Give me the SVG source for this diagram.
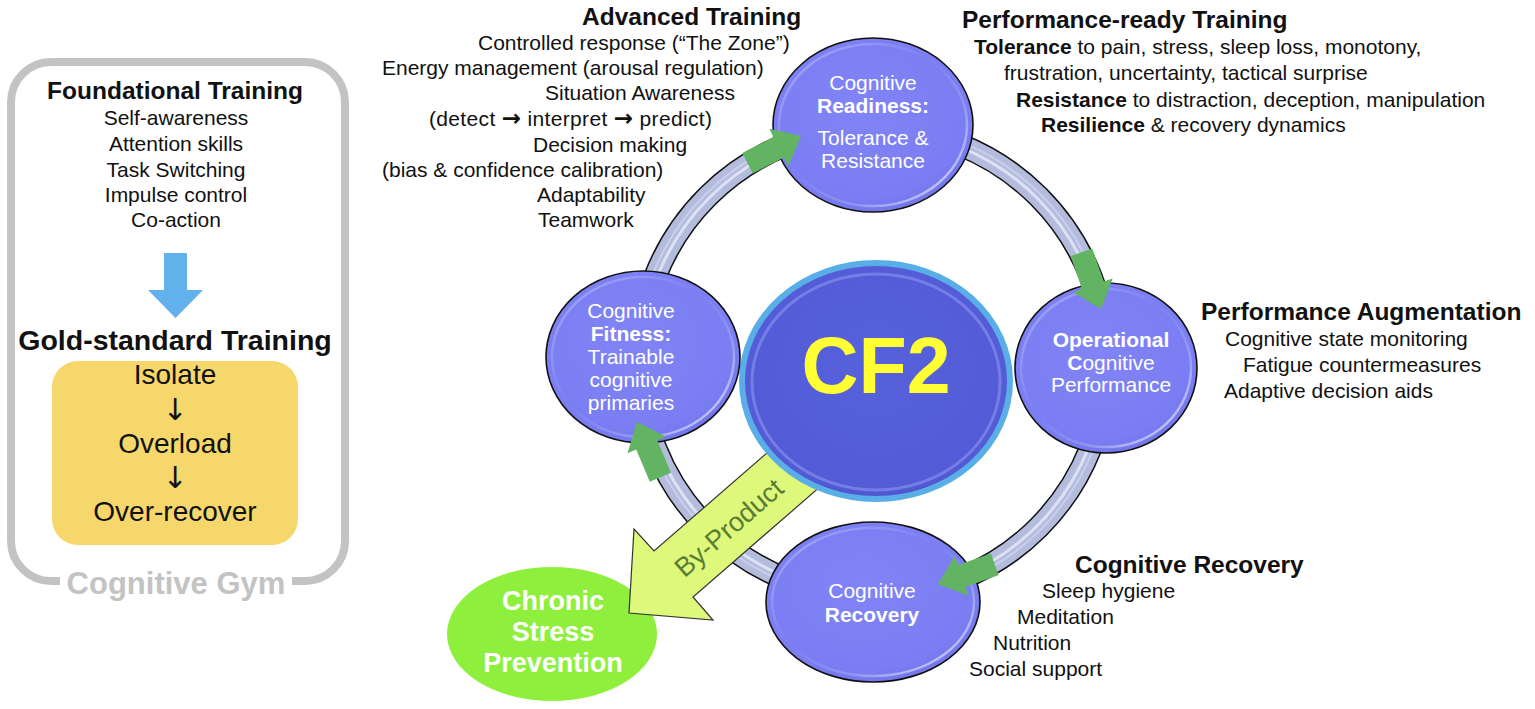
<svg xmlns="http://www.w3.org/2000/svg" xmlns:xlink="http://www.w3.org/1999/xlink" width="1535" height="709" viewBox="0 0 1535 709">
<style>
  text { font-family: "Liberation Sans", Arial, sans-serif; }
  .t21 { font-size: 21px; fill: #111; }
  .hd { font-size: 24.5px; font-weight: bold; fill: #111; }
  .nd { font-size: 21px; fill: #fff; text-anchor: middle; }
  .b { font-weight: bold; }
  .node { fill: url(#nodeGrad); stroke: #111; stroke-width: 1.6; }
  .hl { fill: none; stroke: url(#hlGrad); stroke-width: 2.5; }
  .mid { text-anchor: middle; }
  .arr { font-family: "DejaVu Sans", sans-serif; }
</style>
<defs>
  <radialGradient id="nodeGrad" cx="0.45" cy="0.4" r="0.65">
    <stop offset="0" stop-color="#8084f6"/>
    <stop offset="0.8" stop-color="#7a7ef2"/>
    <stop offset="1" stop-color="#6f73e6"/>
  </radialGradient>
  <linearGradient id="hlGrad" x1="0" y1="0" x2="1" y2="1">
    <stop offset="0" stop-color="#fff" stop-opacity="0.35"/>
    <stop offset="0.45" stop-color="#fff" stop-opacity="0"/>
    <stop offset="0.7" stop-color="#fff" stop-opacity="0.2"/>
    <stop offset="1" stop-color="#fff" stop-opacity="0.8"/>
  </linearGradient>
  <radialGradient id="cfGrad" cx="0.5" cy="0.45" r="0.6">
    <stop offset="0" stop-color="#5761dc"/>
    <stop offset="0.85" stop-color="#535cd6"/>
    <stop offset="1" stop-color="#3f47b8"/>
  </radialGradient>
  <polygon id="garrow" points="0,0 -25,-21 -25,-11.5 -60,-11.5 -60,11.5 -25,11.5 -25,21" fill="#62b462"/>
</defs>
<rect width="1535" height="709" fill="#fff"/>

<!-- Left panel: Cognitive Gym -->
<g id="cognitive-gym">
  <rect x="11" y="62" width="334" height="519" rx="40" fill="none" stroke="#c3c3c3" stroke-width="8"/>
  <rect x="60" y="568" width="232" height="28" fill="#fff"/>
  <text x="176" y="594" class="mid" font-size="31" font-weight="bold" fill="#c3c3c3">Cognitive Gym</text>
</g>
<g id="foundational">
  <text x="175" y="99" class="mid" font-size="24.5" font-weight="bold" fill="#111">Foundational Training</text>
  <text class="t21 mid" x="176" y="125">Self-awareness</text>
  <text class="t21 mid" x="176" y="151">Attention skills</text>
  <text class="t21 mid" x="176" y="177">Task Switching</text>
  <text class="t21 mid" x="176" y="202">Impulse control</text>
  <text class="t21 mid" x="176" y="227">Co-action</text>
</g>
<g id="blue-arrow">
  <polygon points="164,253 187,253 187,290 203,290 175.5,318 148,290 164,290" fill="#62b0ec"/>
</g>
<g id="gold-standard">
  <text x="175" y="350" class="mid" font-size="28.5" font-weight="bold" fill="#111">Gold-standard Training</text>
  <rect x="52" y="361" width="246" height="184" rx="26" fill="#f6d76b"/>
  <text x="175" y="384" class="mid" font-size="28" fill="#111">Isolate</text>
  <text x="175" y="420" class="mid arr" font-size="30" fill="#111">↓</text>
  <text x="175" y="453" class="mid" font-size="28" fill="#111">Overload</text>
  <text x="175" y="488" class="mid arr" font-size="30" fill="#111">↓</text>
  <text x="175" y="521" class="mid" font-size="28" fill="#111">Over-recover</text>
</g>

<!-- Connectors: ring tube, by-product arrow, green arrows -->
<g id="connectors">
  <circle cx="873" cy="362" r="234" fill="none" stroke="#111" stroke-width="23.5"/>
  <circle cx="873" cy="362" r="234" fill="none" stroke="#b4bcde" stroke-width="20.5"/>
  <circle cx="873" cy="362" r="232" fill="none" stroke="#e6eaf8" stroke-opacity="0.8" stroke-width="3"/>
  <circle cx="873" cy="362" r="237" fill="none" stroke="#d7ddf3" stroke-opacity="0.6" stroke-width="2"/>
</g>

<g id="chronic-stress">
  <ellipse cx="552" cy="634" rx="105" ry="67" fill="#8ef03c"/>
  <text x="553" y="610" class="mid" font-size="27" font-weight="bold" fill="#fff">Chronic</text>
  <text x="553" y="641" class="mid" font-size="27" font-weight="bold" fill="#fff">Stress</text>
  <text x="553" y="672" class="mid" font-size="27" font-weight="bold" fill="#fff">Prevention</text>
</g>

<g id="by-product">
  <polygon points="629,613 634,529 654,551 790,433 829,479 693,597 713,620" fill="#def87c" stroke="#333" stroke-width="1.2"/>
  <text x="729" y="537" class="mid" font-size="27" fill="#5a7d33" transform="rotate(-41 729 528)">By-Product</text>
</g>

<g id="cf2">
  <ellipse cx="876" cy="381" rx="134" ry="118" fill="url(#cfGrad)" stroke="#5aaee8" stroke-width="6"/>
  <ellipse cx="876" cy="382" rx="124" ry="108" fill="none" stroke="#8d94f0" stroke-opacity="0.6" stroke-width="3"/>
  <text x="876" y="393" class="mid" font-size="79" font-weight="bold" fill="#ffff33">CF2</text>
</g>

<g id="node-readiness">
  <ellipse class="node" cx="873" cy="125" rx="100" ry="87"/>
  <ellipse class="hl" cx="873" cy="125" rx="94" ry="81"/>
  <text class="nd" x="873" y="90">Cognitive</text>
  <text class="nd b" x="873" y="113">Readiness:</text>
  <text class="nd" x="873" y="145">Tolerance &amp;</text>
  <text class="nd" x="873" y="168">Resistance</text>
</g>
<g id="node-fitness">
  <ellipse class="node" cx="643" cy="357" rx="97" ry="86"/>
  <ellipse class="hl" cx="643" cy="357" rx="91" ry="80"/>
  <text class="nd" x="631" y="318">Cognitive</text>
  <text class="nd b" x="631" y="341">Fitness:</text>
  <text class="nd" x="631" y="364">Trainable</text>
  <text class="nd" x="631" y="387">cognitive</text>
  <text class="nd" x="631" y="410">primaries</text>
</g>
<g id="node-operational">
  <ellipse class="node" cx="1106" cy="368" rx="91" ry="85"/>
  <ellipse class="hl" cx="1106" cy="368" rx="85" ry="79"/>
  <text class="nd b" x="1111" y="347">Operational</text>
  <text class="nd" x="1111" y="370"><tspan class="b">C</tspan>ognitive</text>
  <text class="nd" x="1111" y="392">Performance</text>
</g>
<g id="node-recovery">
  <ellipse class="node" cx="873" cy="602" rx="107" ry="80"/>
  <ellipse class="hl" cx="873" cy="602" rx="101" ry="74"/>
  <text class="nd" x="872" y="598">Cognitive</text>
  <text class="nd b" x="872" y="622">Recovery</text>
</g>

<g id="cycle-arrows">
  <use xlink:href="#garrow" transform="translate(801 136) rotate(-27)"/>
  <use xlink:href="#garrow" transform="translate(1101 309) rotate(71)"/>
  <use xlink:href="#garrow" transform="translate(938 584) rotate(161)"/>
  <use xlink:href="#garrow" transform="translate(637 422) rotate(247)"/>
</g>

<g id="advanced-training">
  <text class="hd" x="582" y="25">Advanced Training</text>
  <text class="t21" x="478" y="50">Controlled response (“The Zone”)</text>
  <text class="t21" x="382" y="75">Energy management (arousal regulation)</text>
  <text class="t21" x="545" y="100">Situation Awareness</text>
  <text class="t21" x="429" y="126" textLength="283" lengthAdjust="spacing">(detect <tspan class="arr" font-size="23" font-weight="bold">→</tspan> interpret <tspan class="arr" font-size="23" font-weight="bold">→</tspan> predict)</text>
  <text class="t21" x="533" y="152">Decision making</text>
  <text class="t21" x="382" y="177">(bias &amp; confidence calibration)</text>
  <text class="t21" x="537" y="202">Adaptability</text>
  <text class="t21" x="538" y="227">Teamwork</text>
</g>
<g id="performance-ready">
  <text class="hd" x="962" y="28">Performance-ready Training</text>
  <text class="t21" x="974" y="54"><tspan class="b">Tolerance</tspan> to pain, stress, sleep loss, monotony,</text>
  <text class="t21" x="1004" y="80">frustration, uncertainty, tactical surprise</text>
  <text class="t21" x="1016" y="107"><tspan class="b">Resistance</tspan> to distraction, deception, manipulation</text>
  <text class="t21" x="1041" y="132"><tspan class="b">Resilience</tspan> &amp; recovery dynamics</text>
</g>
<g id="performance-augmentation">
  <text class="hd" x="1201" y="320">Performance Augmentation</text>
  <text class="t21" x="1225" y="346">Cognitive state monitoring</text>
  <text class="t21" x="1243" y="372">Fatigue countermeasures</text>
  <text class="t21" x="1224" y="398">Adaptive decision aids</text>
</g>
<g id="cognitive-recovery">
  <text class="hd" x="1075" y="573">Cognitive Recovery</text>
  <text class="t21" x="1042" y="598">Sleep hygiene</text>
  <text class="t21" x="1017" y="624">Meditation</text>
  <text class="t21" x="993" y="650">Nutrition</text>
  <text class="t21" x="969" y="676">Social support</text>
</g>
</svg>
